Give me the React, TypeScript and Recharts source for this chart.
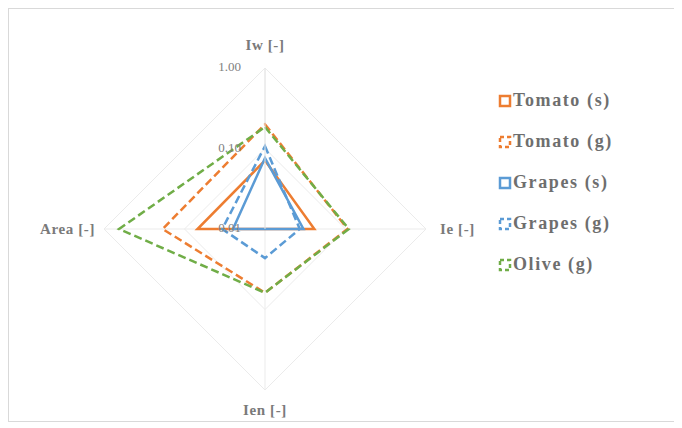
import React from "react";
import {
  Legend,
  PolarAngleAxis,
  PolarGrid,
  PolarRadiusAxis,
  Radar,
  RadarChart
} from "recharts";

const axes = ["Iw [-]", "Ie [-]", "Ien [-]", "Area [-]"];
const tomatoS = [0.071, 0.041, 0.01, 0.069];
const tomatoG = [0.2, 0.106, 0.062, 0.187];
const grapesS = [0.076, 0.03, 0.01, 0.025];
const grapesG = [0.107, 0.027, 0.023, 0.034];
const oliveG = [0.185, 0.11, 0.062, 0.65];
const radiusTicks = [0.01, 0.1, 1];

const series = [
  { key: "tomatoS", name: "Tomato (s)", values: tomatoS, color: "#ED7D31", dash: undefined },
  { key: "tomatoG", name: "Tomato (g)", values: tomatoG, color: "#ED7D31", dash: "8 4" },
  { key: "grapesS", name: "Grapes (s)", values: grapesS, color: "#5B9BD5", dash: undefined },
  { key: "grapesG", name: "Grapes (g)", values: grapesG, color: "#5B9BD5", dash: "8 4" },
  { key: "oliveG", name: "Olive (g)", values: oliveG, color: "#70AD47", dash: "8 4" }
];

// radius axis is logarithmic: plot log10 of each value on a linear [-2, 0] axis
const chartData = axes.map((axis, i) => {
  const row: Record<string, any> = { axis };
  series.forEach((s) => {
    row[s.key] = Math.log10(s.values[i]);
  });
  return row;
});

const W = 673;
const H = 412;
const CX = 256;
const CY = 220;
const R = 161;
const FONT = "'Liberation Serif', 'Times New Roman', serif";

function AngleTick(props: any) {
  const { x, y, payload } = props;
  const dx = x - CX;
  const dy = y - CY;
  let tx = CX;
  let ty = CY;
  let anchor: "start" | "middle" | "end" = "middle";
  if (Math.abs(dy) > Math.abs(dx)) {
    ty = dy < 0 ? CY - R - 18 : CY + R + 25;
  } else if (dx > 0) {
    tx = CX + R + 14;
    ty = CY + 5;
    anchor = "start";
  } else {
    tx = CX - R - 9;
    ty = CY + 5;
    anchor = "end";
  }
  return (
    <text
      x={tx}
      y={ty}
      textAnchor={anchor}
      fontSize={15}
      fontWeight="bold"
      letterSpacing={0.6}
      fontFamily={FONT}
      fill="#7a7a7a"
    >
      {payload.value}
    </text>
  );
}

function RadiusTick(props: any) {
  const { x, y, payload } = props;
  return (
    <text
      x={x - 24}
      y={y + 3}
      textAnchor="end"
      fontSize={13}
      fontFamily={FONT}
      fill="#808080"
    >
      {Math.pow(10, payload.value).toFixed(2)}
    </text>
  );
}

function renderLegend(props: any) {
  const items = (props.payload || [])
    .map((entry: any) =>
      series.findIndex((x) => x.name === entry.value || x.key === entry.dataKey)
    )
    .filter((i: number) => i >= 0)
    .sort((a: number, b: number) => a - b);
  return (
    <div>
      {items.map((i: number) => {
        const s = series[i];
        return (
          <div
            key={s.key}
            style={{ height: 41, display: "flex", alignItems: "center" }}
          >
            <svg width={14} height={14} style={{ marginRight: 1 }}>
              <rect
                x={2}
                y={2}
                width={10}
                height={10}
                fill="none"
                stroke={s.color}
                strokeWidth={2.5}
                strokeDasharray={s.dash ? "4 3" : undefined}
              />
            </svg>
            <span
              style={{
                fontFamily: FONT,
                fontSize: 18,
                fontWeight: "bold",
                letterSpacing: 1.6,
                color: "#6e6e6e"
              }}
            >
              {s.name}
            </span>
          </div>
        );
      })}
    </div>
  );
}

export default function App() {
  return (
    <div
      style={{
        width: W,
        height: H,
        borderTop: "1px solid #d9d9d9",
        borderLeft: "1px solid #d9d9d9",
        borderBottom: "1px solid #d9d9d9",
        background: "#fff"
      }}
    >
      <RadarChart
        width={W}
        height={H}
        data={chartData}
        cx={CX}
        cy={CY}
        outerRadius={R}
        margin={{ top: 0, right: 0, bottom: 0, left: 0 }}
      >
        <PolarGrid gridType="polygon" stroke="#ebebeb" strokeWidth={1} />
        <PolarAngleAxis dataKey="axis" tick={AngleTick} tickLine={false} axisLine={false} />
        <PolarRadiusAxis
          angle={90}
          type="number"
          domain={[-2, 0]}
          ticks={radiusTicks.map((t) => Math.log10(t))}
          allowDataOverflow
          tick={RadiusTick}
          tickLine={false}
          axisLine={{ stroke: "#e6e6e6" }}
        />
        {series.map((s) => (
          <Radar
            key={s.key}
            name={s.name}
            dataKey={s.key}
            stroke={s.color}
            strokeWidth={2.5}
            strokeDasharray={s.dash}
            fill="none"
            fillOpacity={0}
            dot={false}
            isAnimationActive={false}
          />
        ))}
        <Legend
          layout="vertical"
          content={renderLegend}
          wrapperStyle={{ position: "absolute", left: 489, top: 71, width: 170 }}
        />
      </RadarChart>
    </div>
  );
}
